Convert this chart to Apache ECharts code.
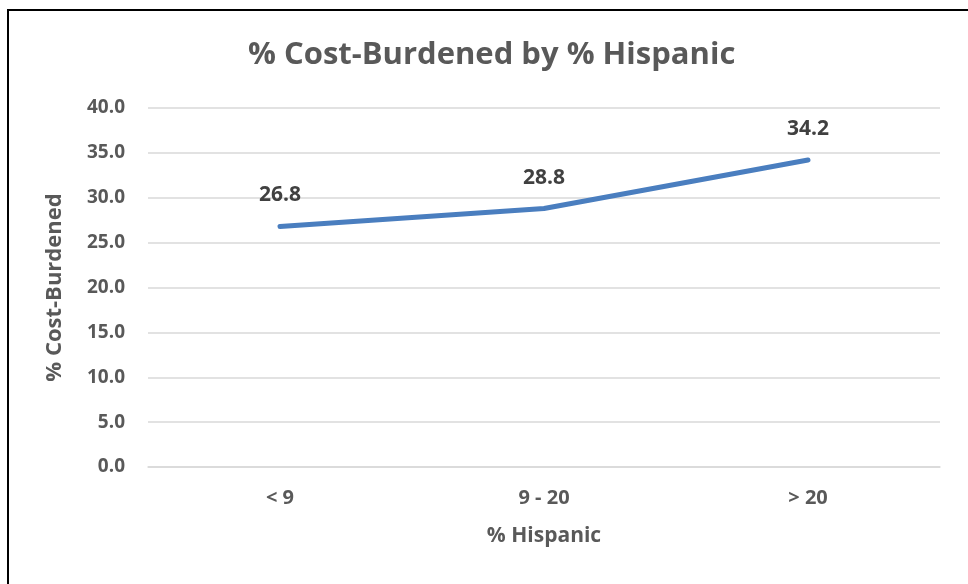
<!DOCTYPE html>
<html>
<head>
<meta charset="utf-8">
<script src="https://cdn.jsdelivr.net/npm/echarts@6/dist/echarts.min.js"></script>
<style>
  html, body { margin: 0; padding: 0; background: #fff; }
  #chart { width: 968px; height: 584px; }
</style>
</head>
<body>
<div id="chart"></div>
<script>
// Share of cost-burdened households by Hispanic population share
const categories = ['< 9', '9 - 20', '> 20'];
const costBurdened = [26.8, 28.8, 34.2];
const yTicks = { min: 0, max: 40, interval: 5 };

const titleText = '% Cost-Burdened by % Hispanic';
const xAxisName = '% Hispanic';
const yAxisName = '% Cost-Burdened';

const FONT = '"Open Sans", sans-serif';
const GREY = '#595959';

const chart = echarts.init(document.getElementById('chart'), null, { renderer: 'canvas' });

chart.setOption({
  backgroundColor: '#ffffff',
  animation: false,
  title: {
    text: titleText,
    left: 243,
    top: 35,
    textStyle: { fontFamily: FONT, fontSize: 31, fontWeight: 'bold', color: GREY }
  },
  graphic: [{
    type: 'rect',
    shape: { x: 8, y: 10, width: 1000, height: 620 },
    style: { fill: 'none', stroke: '#000', lineWidth: 2 },
    silent: true
  }],
  grid: { left: 148, right: 28, top: 108, bottom: 117, containLabel: false },
  xAxis: {
    type: 'category',
    data: categories,
    boundaryGap: true,
    name: xAxisName,
    nameLocation: 'middle',
    nameGap: 59,
    nameTextStyle: { fontFamily: FONT, fontSize: 21, fontWeight: 'bold', color: GREY },
    axisLine: { show: true, lineStyle: { color: '#d9d9d9', width: 1.5 } },
    axisTick: { show: false },
    axisLabel: { margin: 21, fontFamily: FONT, fontSize: 20, fontWeight: 'bold', color: GREY }
  },
  yAxis: {
    type: 'value',
    min: yTicks.min,
    max: yTicks.max,
    interval: yTicks.interval,
    name: yAxisName,
    nameLocation: 'middle',
    nameRotate: 90,
    nameGap: 82,
    nameTextStyle: { fontFamily: FONT, fontSize: 22, fontWeight: 'bold', color: GREY },
    axisLine: { show: false },
    axisTick: { show: false },
    splitLine: { lineStyle: { color: '#d9d9d9', width: 1.5 } },
    axisLabel: {
      margin: 23,
      fontFamily: FONT, fontSize: 19, fontWeight: 'bold', color: GREY,
      formatter: v => v.toFixed(1)
    }
  },
  series: [{
    type: 'line',
    data: costBurdened,
    smooth: false,
    symbol: 'circle',
    symbolSize: 1,
    showSymbol: true,
    itemStyle: { color: '#4A7EBF' },
    lineStyle: { color: '#4A7EBF', width: 5, cap: 'round', join: 'round' },
    label: {
      show: true,
      position: 'top',
      distance: 20,
      fontFamily: FONT, fontSize: 21, fontWeight: 'bold', color: '#404040',
      formatter: p => p.value.toFixed(1)
    }
  }]
});
</script>
</body>
</html>
